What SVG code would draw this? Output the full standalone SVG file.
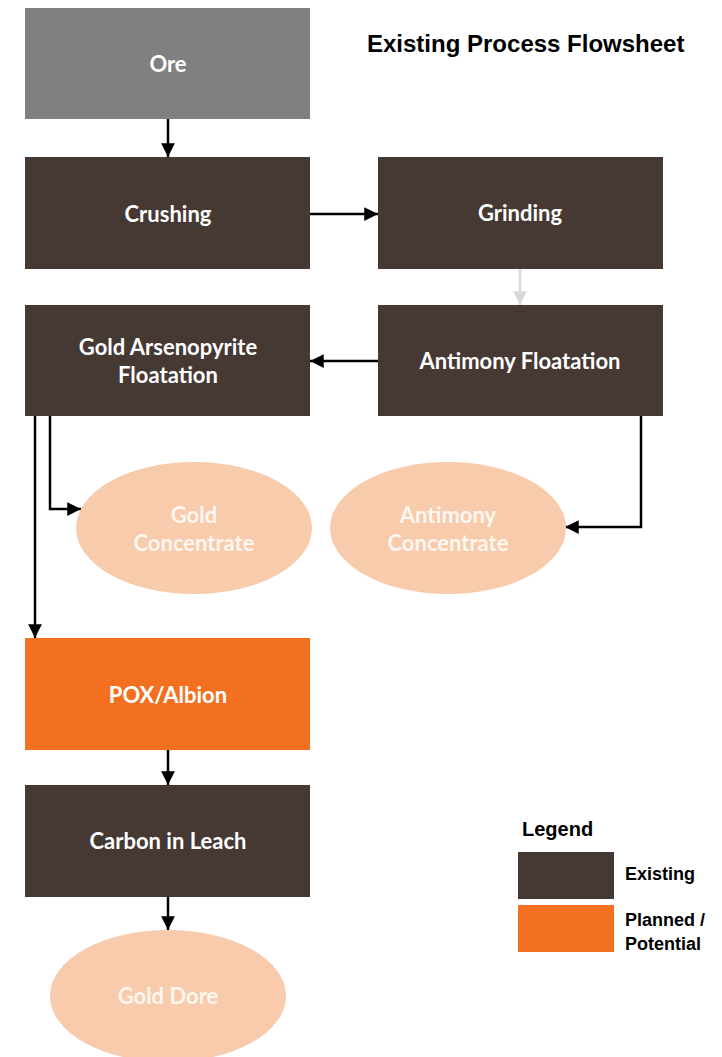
<svg xmlns="http://www.w3.org/2000/svg" width="722" height="1057" viewBox="0 0 722 1057">
<defs>
<marker id="ah" viewBox="0 0 10 10" refX="10" refY="5" markerWidth="5.5" markerHeight="5.5" orient="auto" markerUnits="strokeWidth">
<path d="M0,0 L10,5 L0,10 z" fill="#000"/>
</marker>
<marker id="ahg" viewBox="0 0 10 10" refX="10" refY="5" markerWidth="5.5" markerHeight="5.5" orient="auto" markerUnits="strokeWidth">
<path d="M0,0 L10,5 L0,10 z" fill="#d9d9d9"/>
</marker>
<style>
.box{fill:#463833}
.ore{fill:#808080}
.plan{fill:#F37021}
.prod{fill:#F7CBAC}
.lbl{font-family:Lato,"Open Sans",sans-serif;font-weight:bold;font-size:22px;fill:#fff;text-anchor:middle}
.ptxt{font-family:Lato,"Open Sans",sans-serif;font-weight:bold;font-size:22px;fill:#fef6ef;text-anchor:middle}
.ttl{font-family:"Liberation Sans",Arial,sans-serif;font-weight:bold;font-size:24px;fill:#000}
.leg{font-family:"Liberation Sans",Arial,sans-serif;font-weight:bold;font-size:18px;fill:#000}
.c{fill:none;stroke:#000;stroke-width:2.5;marker-end:url(#ah)}
.cg{fill:none;stroke:#d9d9d9;stroke-width:2.5;marker-end:url(#ahg)}
</style>
</defs>
<rect width="722" height="1057" fill="#fff"/>
<text class="ttl" x="367" y="52">Existing Process Flowsheet</text>
<g id="connectors">
<path class="c" d="M168,119 V157"/>
<path class="c" d="M310,214 H378"/>
<path class="cg" d="M520,269 V305"/>
<path class="c" d="M378,361 H310"/>
<path class="c" d="M50,416 V509 H81"/>
<path class="c" d="M35,416 V638"/>
<path class="c" d="M641,416 V527 H565"/>
<path class="c" d="M168,750 V785"/>
<path class="c" d="M168,897 V930"/>
</g>
<g id="ore"><rect class="ore" x="25" y="8" width="285" height="111"/><text class="lbl" x="168" y="72">Ore</text></g>
<g id="crushing"><rect class="box" x="25" y="157" width="285" height="112"/><text class="lbl" x="168" y="222">Crushing</text></g>
<g id="grinding"><rect class="box" x="378" y="157" width="285" height="112"/><text class="lbl" x="520" y="221">Grinding</text></g>
<g id="gold-arseno"><rect class="box" x="25" y="305" width="285" height="111"/><text class="lbl" x="168" y="355">Gold Arsenopyrite</text><text class="lbl" x="168" y="383">Floatation</text></g>
<g id="antimony-flot"><rect class="box" x="378" y="305" width="285" height="111"/><text class="lbl" x="520" y="369">Antimony Floatation</text></g>
<g id="gold-conc"><ellipse class="prod" cx="194" cy="528" rx="118" ry="66"/><text class="ptxt" x="194" y="523">Gold</text><text class="ptxt" x="194" y="551">Concentrate</text></g>
<g id="antimony-conc"><ellipse class="prod" cx="448" cy="528" rx="118" ry="66"/><text class="ptxt" x="448" y="523">Antimony</text><text class="ptxt" x="448" y="551">Concentrate</text></g>
<g id="pox"><rect class="plan" x="25" y="638" width="285" height="112"/><text class="lbl" x="168" y="703">POX/Albion</text></g>
<g id="cil"><rect class="box" x="25" y="785" width="285" height="112"/><text class="lbl" x="168" y="849">Carbon in Leach</text></g>
<g id="gold-dore"><ellipse class="prod" cx="168" cy="996" rx="118" ry="66"/><text class="ptxt" x="168" y="1004">Gold Dore</text></g>
<g id="legend">
<text class="leg" x="522" y="836" style="font-size:20px">Legend</text>
<rect class="box" x="518" y="852" width="96" height="47"/>
<text class="leg" x="625" y="880">Existing</text>
<rect class="plan" x="518" y="905" width="96" height="47"/>
<text class="leg" x="625" y="926">Planned /</text>
<text class="leg" x="625" y="950">Potential</text>
</g>
</svg>
